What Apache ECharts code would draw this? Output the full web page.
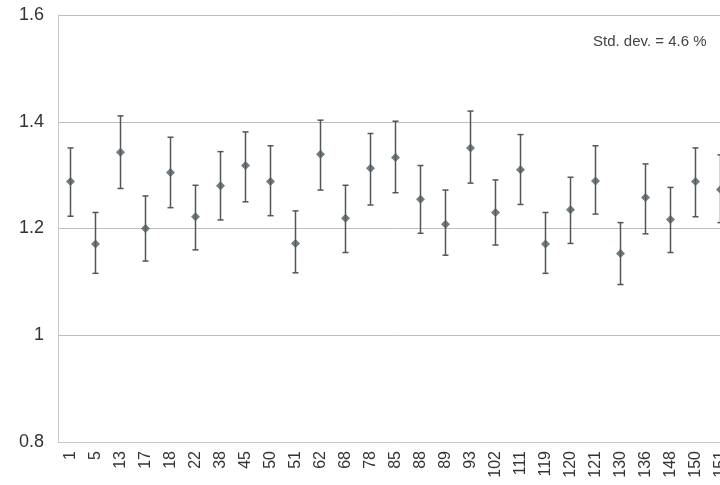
<!DOCTYPE html>
<html>
<head>
<meta charset="utf-8">
<script src="https://cdn.jsdelivr.net/npm/echarts@6/dist/echarts.min.js"></script>
<style>
html,body{margin:0;padding:0;background:#fff;overflow:hidden;width:720px;height:485px;}
#chart{width:733px;height:485px;}
</style>
</head>
<body>
<div id="chart"></div>
<script>
var categories = ['1','5','13','17','18','22','38','45','50','51','62','68','78','85','88','89','93','102','111','119','120','121','130','136','148','150','151'];
var means = [1.288,1.171,1.343,1.200,1.305,1.222,1.280,1.318,1.288,1.172,1.339,1.219,1.313,1.333,1.255,1.208,1.351,1.230,1.310,1.171,1.235,1.289,1.153,1.258,1.217,1.288,1.273];
var upper = [1.351,1.230,1.411,1.261,1.371,1.281,1.344,1.381,1.355,1.233,1.403,1.281,1.378,1.401,1.318,1.272,1.420,1.291,1.376,1.230,1.296,1.355,1.211,1.321,1.277,1.351,1.338];
var lower = [1.223,1.116,1.275,1.139,1.239,1.160,1.216,1.250,1.224,1.117,1.272,1.155,1.244,1.267,1.191,1.150,1.285,1.169,1.245,1.116,1.172,1.227,1.095,1.190,1.155,1.222,1.211];
var yTicks = [0.8, 1.0, 1.2, 1.4, 1.6];
var noteText = 'Std. dev. = 4.6 %';

var errData = categories.map(function(c, i){ return [i, lower[i], upper[i]]; });
var ptData = categories.map(function(c, i){ return [i, means[i]]; });

var chart = echarts.init(document.getElementById('chart'));
chart.setOption({
  animation: false,
  backgroundColor: '#fff',
  textStyle: {fontFamily: 'Liberation Sans, Arial, sans-serif'},
  grid: {left: 58, right: 0, top: 15, bottom: 43},
  graphic: [{
    type: 'text', left: 593, top: 34,
    style: {text: noteText, font: '15px "Liberation Sans", Arial, sans-serif', fill: '#444'}
  }],
  xAxis: {
    type: 'category',
    data: categories,
    boundaryGap: true,
    axisLine: {lineStyle: {color: '#c8c8c8', width: 1}},
    axisTick: {show: false},
    axisLabel: {rotate: 90, interval: 0, color: '#333', fontSize: 16, margin: 9},
    splitLine: {show: false}
  },
  yAxis: {
    type: 'value',
    min: yTicks[0], max: yTicks[yTicks.length-1], interval: 0.2,
    axisLine: {show: true, lineStyle: {color: '#c8c8c8', width: 1}},
    axisTick: {show: false},
    axisLabel: {color: '#333', fontSize: 18, margin: 14,
      formatter: function(v){ return String(Math.round(v*10)/10); }},
    splitLine: {show: true, lineStyle: {color: '#bdbdbd', width: 1}}
  },
  series: [{
    type: 'custom',
    data: errData,
    z: 2,
    renderItem: function(params, api){
      var x = api.value(0);
      var lo = api.coord([x, api.value(1)]);
      var hi = api.coord([x, api.value(2)]);
      var cap = 3;
      var st = {stroke: '#555', lineWidth: 1.5};
      return {type: 'group', children: [
        {type: 'line', shape: {x1: hi[0], y1: hi[1], x2: lo[0], y2: lo[1]}, style: st},
        {type: 'line', shape: {x1: hi[0]-cap, y1: hi[1], x2: hi[0]+cap, y2: hi[1]}, style: st},
        {type: 'line', shape: {x1: lo[0]-cap, y1: lo[1], x2: lo[0]+cap, y2: lo[1]}, style: st}
      ]};
    }
  }, {
    type: 'scatter',
    data: ptData,
    symbol: 'diamond',
    symbolSize: 9,
    z: 3,
    itemStyle: {color: '#4f5a60'}
  }]
});
</script>
</body>
</html>
